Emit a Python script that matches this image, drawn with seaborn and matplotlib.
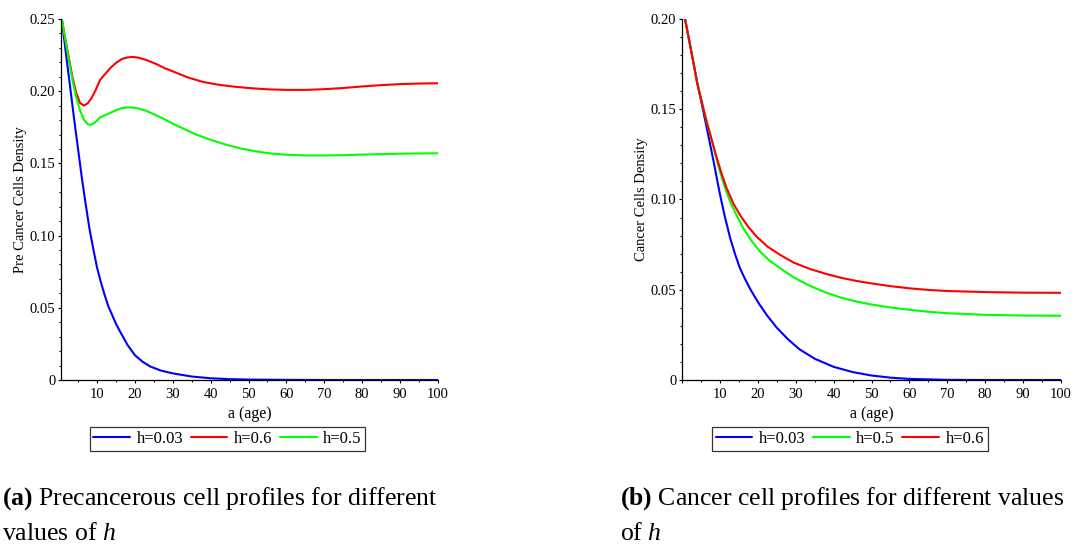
import numpy as np
import pandas as pd
import matplotlib
matplotlib.use("Agg")
import matplotlib.pyplot as plt
import seaborn as sns
from matplotlib.ticker import MultipleLocator, FuncFormatter

# ---------------- data ----------------
# Left panel: precancerous cell density
pre_a_h003 = [0.7, 2, 4, 6, 7, 8, 9, 10, 11, 12, 13, 14, 15, 16, 18, 20, 22, 24, 27, 30,
              35, 40, 45, 50, 60, 70, 80, 100]
pre_v_h003 = [0.25, 0.222, 0.180, 0.140, 0.122, 0.105, 0.091, 0.078, 0.068, 0.059, 0.051,
              0.045, 0.039, 0.034, 0.0245, 0.0172, 0.0127, 0.0094, 0.0064, 0.0046,
              0.0024, 0.0012, 0.0006, 0.0003, 0.0001, 0.0, 0.0, 0.0]

pre_a_h06 = [0.7, 1.5, 2.5, 3.5, 4.5, 5.5, 6.5, 7.5, 8.5, 9.5, 10.8, 12, 13.5, 15, 16.5,
             18, 19.5, 21, 23, 25.5, 28, 31, 34, 38, 42, 46, 50, 55, 60, 65, 70, 75,
             80, 85, 90, 95, 100]
pre_v_h06 = [0.25, 0.238, 0.224, 0.210, 0.199, 0.192, 0.190, 0.1915, 0.195, 0.200,
             0.2077, 0.2115, 0.2160, 0.2196, 0.2222, 0.2234, 0.2237, 0.2232, 0.2216,
             0.2190, 0.2158, 0.2127, 0.2095, 0.2064, 0.2045, 0.2032, 0.2022, 0.2013,
             0.2009, 0.2009, 0.2014, 0.2022, 0.2033, 0.2042, 0.2049, 0.2053, 0.2055]

pre_a_h05 = [0.7, 1.5, 2.5, 3.5, 4.5, 5.5, 6.5, 7.5, 8.2, 9, 10, 10.8, 12, 13.5, 15,
             16.5, 18, 19.5, 21, 23, 25, 27.5, 30, 33, 36, 40, 44, 48, 52, 56, 60, 65,
             70, 75, 80, 85, 90, 95, 100]
pre_v_h05 = [0.25, 0.238, 0.223, 0.208, 0.196, 0.187, 0.1805, 0.1772, 0.1767, 0.1775,
             0.1795, 0.1819, 0.1833, 0.1850, 0.1868, 0.1882, 0.1888, 0.1887, 0.1880,
             0.1864, 0.1840, 0.1810, 0.1775, 0.1738, 0.1702, 0.1663, 0.1630, 0.1603,
             0.1583, 0.1568, 0.1560, 0.1555, 0.1555, 0.1557, 0.1561, 0.1564, 0.1567,
             0.1569, 0.1570]

# Right panel: cancer cell density
can_a_h003 = [0.8, 2, 3, 4, 5, 6.5, 8.3, 10, 11.3, 12.7, 14, 15.3, 16.5, 17.9, 19, 20.4,
              22.5, 25, 28, 31, 35, 40, 45, 50, 55, 60, 70, 80, 100]
can_v_h003 = [0.200, 0.187, 0.176, 0.165, 0.155, 0.1400, 0.1215, 0.1030, 0.0905, 0.0787,
              0.0697, 0.0619, 0.0565, 0.0508, 0.0468, 0.0420, 0.0356, 0.0290, 0.0225,
              0.0170, 0.0118, 0.0073, 0.0044, 0.0025, 0.0013, 0.0006, 0.0001, 0.0, 0.0]

can_a_h05 = [0.8, 2, 3, 4, 5, 6.5, 8, 9, 10, 11.3, 12.7, 14.5, 16.2, 18.3, 20.6, 23, 25.9,
             29.5, 33.8, 38, 42, 46, 50, 55, 60, 65, 70, 80, 90, 100]
can_v_h05 = [0.200, 0.187, 0.176, 0.1645, 0.156, 0.1431, 0.1318, 0.1232, 0.1154, 0.1068,
             0.0988, 0.0908, 0.0840, 0.0772, 0.0711, 0.0663, 0.0619, 0.0568, 0.0521,
             0.0484, 0.0456, 0.0435, 0.0418, 0.0402, 0.0389, 0.0378, 0.0370, 0.0361,
             0.0357, 0.0356]

can_a_h06 = [0.8, 2, 3, 4, 5, 6.5, 8, 9, 10.5, 11.8, 13.5, 15.3, 17.5, 19.7, 22.5, 25.9,
             29.5, 33.8, 38, 42, 46, 50, 55, 60, 65, 70, 80, 90, 100]
can_v_h06 = [0.200, 0.187, 0.176, 0.1645, 0.156, 0.1431, 0.1318, 0.1243, 0.1140, 0.1062,
             0.0980, 0.0914, 0.0848, 0.0794, 0.0740, 0.0693, 0.0650, 0.0615, 0.0588,
             0.0566, 0.0549, 0.0535, 0.0520, 0.0508, 0.0499, 0.0493, 0.0487, 0.0484,
             0.0483]

left_order = ["h=0.03", "h=0.6", "h=0.5"]
right_order = ["h=0.03", "h=0.5", "h=0.6"]
colors = {"h=0.03": "#0000ff", "h=0.6": "#ff0000", "h=0.5": "#00ff00"}

x_label = "a (age)"
left_ylabel = "Pre Cancer Cells Density"
right_ylabel = "Cancer Cells Density"
caption_a1 = r"$\mathbf{(a)}$ Precancerous cell profiles for different"
caption_a2 = r"values of $h$"
caption_b1 = r"$\mathbf{(b)}$ Cancer cell profiles for different values"
caption_b2 = r"of $h$"

# ---------------- build tables ----------------
df_left = pd.concat([
    pd.DataFrame({"a": pre_a_h003, "v": pre_v_h003, "h": "h=0.03"}),
    pd.DataFrame({"a": pre_a_h06, "v": pre_v_h06, "h": "h=0.6"}),
    pd.DataFrame({"a": pre_a_h05, "v": pre_v_h05, "h": "h=0.5"}),
], ignore_index=True)
df_right = pd.concat([
    pd.DataFrame({"a": can_a_h003, "v": can_v_h003, "h": "h=0.03"}),
    pd.DataFrame({"a": can_a_h05, "v": can_v_h05, "h": "h=0.5"}),
    pd.DataFrame({"a": can_a_h06, "v": can_v_h06, "h": "h=0.6"}),
], ignore_index=True)

# ---------------- style ----------------
sns.set_style("ticks")
plt.rcParams["font.family"] = ["Liberation Serif", "DejaVu Serif"]
plt.rcParams["mathtext.fontset"] = "custom"
plt.rcParams["mathtext.rm"] = "Liberation Serif"
plt.rcParams["mathtext.it"] = "Liberation Serif:italic"
plt.rcParams["mathtext.bf"] = "Liberation Serif:bold"
plt.rcParams["text.color"] = "black"
plt.rcParams["axes.labelcolor"] = "black"
plt.rcParams["legend.labelcolor"] = "black"

fig = plt.figure(figsize=(10.74, 5.47), dpi=100)
W, H = 1074, 547
axL = fig.add_axes([61 / W, (H - 380) / H, 377 / W, 361 / H])
axR = fig.add_axes([682 / W, (H - 380) / H, 379 / W, 361 / H])


def style_axis(ax, ylim, xmin, ylabel, order, legx):
    ax.set_xlim(xmin, 100)
    ax.set_ylim(*ylim)
    ax.xaxis.set_major_locator(MultipleLocator(10))
    ax.xaxis.set_minor_locator(MultipleLocator(5))
    ax.yaxis.set_major_locator(MultipleLocator(0.05))
    ax.yaxis.set_minor_locator(MultipleLocator(0.01))
    ax.xaxis.set_major_formatter(FuncFormatter(lambda v, p: "" if v < 1 else f"{int(round(v))}"))
    ax.yaxis.set_major_formatter(FuncFormatter(lambda v, p: "0" if abs(v) < 1e-9 else f"{v:.2f}"))
    for s in ["top", "right"]:
        ax.spines[s].set_visible(False)
    for s in ["left", "bottom"]:
        ax.spines[s].set_linewidth(0.9)
        ax.spines[s].set_color("black")
    ax.tick_params(axis="both", which="major", length=2.5, width=0.8, labelsize=10.5,
                   pad=1.5, colors="black")
    ax.tick_params(axis="x", which="major", pad=3)
    ax.tick_params(axis="both", which="minor", length=1.5, width=0.7, colors="black")
    ax.set_xlabel(x_label, fontsize=11.5, labelpad=3.5, color="black")
    ax.set_ylabel(ylabel, fontsize=10.5, labelpad=2, color="black")
    handles, labels = ax.get_legend_handles_labels()
    hmap = dict(zip(labels, handles))
    leg = ax.legend([hmap[k] for k in order], order, loc="center",
                    bbox_to_anchor=(legx, -0.163), ncol=3, frameon=True,
                    fancybox=False, edgecolor="black", fontsize=12,
                    handlelength=2.2, handletextpad=0.4, columnspacing=0.45,
                    borderpad=0.22, borderaxespad=0)
    leg.get_frame().set_linewidth(0.9)
    for t in leg.get_texts():
        t.set_color("black")


sns.lineplot(data=df_left, x="a", y="v", hue="h", hue_order=left_order,
             palette=colors, estimator=None, linewidth=1.5, ax=axL)
style_axis(axL, (0, 0.25), 0.5, left_ylabel, left_order, 0.4416)

sns.lineplot(data=df_right, x="a", y="v", hue="h", hue_order=right_order,
             palette=colors, estimator=None, linewidth=1.5, ax=axR)
style_axis(axR, (0, 0.20), 0.0, right_ylabel, right_order, 0.443)

# ---------------- captions ----------------
cap_fs = 18.5
fig.text(2 / W, 1 - 505 / H, caption_a1, fontsize=cap_fs, va="baseline", ha="left", color="black")
fig.text(2 / W, 1 - 540 / H, caption_a2, fontsize=cap_fs, va="baseline", ha="left", color="black")
fig.text(620 / W, 1 - 505 / H, caption_b1, fontsize=cap_fs, va="baseline", ha="left", color="black")
fig.text(620 / W, 1 - 540 / H, caption_b2, fontsize=cap_fs, va="baseline", ha="left", color="black")

fig.savefig("out.png", dpi=100)
